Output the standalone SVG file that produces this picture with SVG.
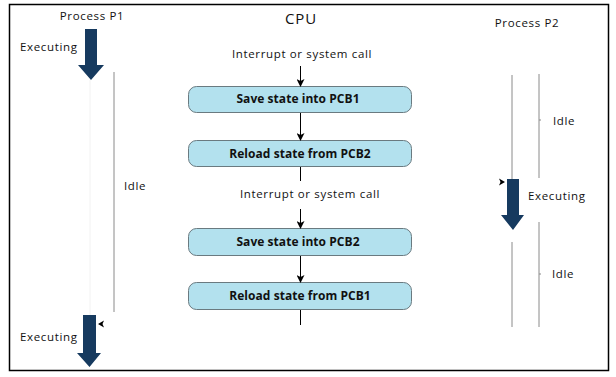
<svg xmlns="http://www.w3.org/2000/svg" width="616" height="377" viewBox="0 0 616 377">
<defs>
<style>
.t{font-family:"Open Sans","Noto Sans","Liberation Sans",sans-serif;font-size:11.5px;letter-spacing:0.65px;fill:#111}
.tb{font-family:"Open Sans","Noto Sans","Liberation Sans",sans-serif;font-size:12px;letter-spacing:0.05px;font-weight:bold;fill:#111;text-anchor:middle}
.c{text-anchor:middle}
.box{fill:#b3e1ee;stroke:#6a7a80;stroke-width:1}
.ln{stroke:#000;stroke-width:1;fill:none}
.gl{stroke:#8a8a8a;stroke-width:1;fill:none}
.big{fill:#163a5f}
</style>
<marker id="ah" viewBox="0 0 8 8" refX="7" refY="4" markerWidth="8" markerHeight="8" markerUnits="userSpaceOnUse" orient="auto">
<path d="M0,0 L8,4 L0,8 L2,4 Z" fill="#000"/>
</marker>
</defs>
<rect x="9.5" y="4.5" width="599" height="366" fill="#fff" stroke="#000" stroke-width="1.5"/>

<g id="cpu-title"><text class="t c" x="301" y="24" style="font-size:15px;letter-spacing:0.8px">CPU</text></g>

<g id="p1">
<text class="t c" x="92" y="20">Process P1</text>
<text class="t" x="20" y="51">Executing</text>
<path class="big" d="M85,29 H97 V65 H104 L91,80 L78,65 H85 Z"/>
<line x1="90" y1="80" x2="90" y2="315" stroke="#f2f2f2" stroke-width="1"/>
<line class="gl" x1="114" y1="72" x2="114" y2="312"/>
<text class="t" x="124" y="190">Idle</text>
<text class="t" x="20" y="341">Executing</text>
<path class="big" d="M83,315 H96 V353 H101 L89.5,367 L77,353 H83 Z"/>
<path d="M98,324 L104,320.5 L102.5,324 L104,327.5 Z" fill="#000"/>
</g>

<g id="p2">
<text class="t c" x="527" y="27">Process P2</text>
<line class="gl" x1="512" y1="75" x2="512" y2="179"/>
<line class="gl" x1="539" y1="74" x2="539" y2="178"/>
<line class="gl" x1="539" y1="120" x2="541" y2="120"/>
<text class="t" x="553" y="125">Idle</text>
<path class="big" d="M507,179 H519 V215 H524 L513,230 L501,215 H507 Z"/>
<path d="M505,182 L499,178.5 L500.5,182 L499,185.5 Z" fill="#000"/>
<text class="t" x="528" y="200">Executing</text>
<line class="gl" x1="512" y1="242" x2="512" y2="327"/>
<line class="gl" x1="539" y1="222" x2="539" y2="327"/>
<line class="gl" x1="539" y1="274" x2="541" y2="274"/>
<text class="t" x="552" y="278">Idle</text>
</g>

<g id="label1"><text class="t c" x="302" y="58">Interrupt or system call</text></g>
<g id="box1"><rect class="box" x="188.5" y="86.5" width="223" height="26" rx="8"/><text class="tb" x="298" y="103">Save state into PCB1</text></g>
<g id="box2"><rect class="box" x="188.5" y="140.5" width="223" height="26" rx="8"/><text class="tb" x="300" y="157.5">Reload state from PCB2</text></g>
<g id="label2"><text class="t c" x="310" y="198">Interrupt or system call</text></g>
<g id="box3"><rect class="box" x="188.5" y="228.5" width="223" height="27" rx="8"/><text class="tb" x="298" y="246">Save state into PCB2</text></g>
<g id="box4"><rect class="box" x="188.5" y="282.5" width="223" height="27" rx="8"/><text class="tb" x="300" y="300">Reload state from PCB1</text></g>

<g id="connectors">
<line class="ln" x1="300.5" y1="66" x2="300.5" y2="86" marker-end="url(#ah)"/>
<line class="ln" x1="300.5" y1="113" x2="300.5" y2="140" marker-end="url(#ah)"/>
<line class="ln" x1="300.5" y1="167" x2="300.5" y2="181"/>
<line class="ln" x1="300.5" y1="209" x2="300.5" y2="228" marker-end="url(#ah)"/>
<line class="ln" x1="300.5" y1="256" x2="300.5" y2="282" marker-end="url(#ah)"/>
<line class="ln" x1="300.5" y1="310" x2="300.5" y2="325"/>
</g>
</svg>
